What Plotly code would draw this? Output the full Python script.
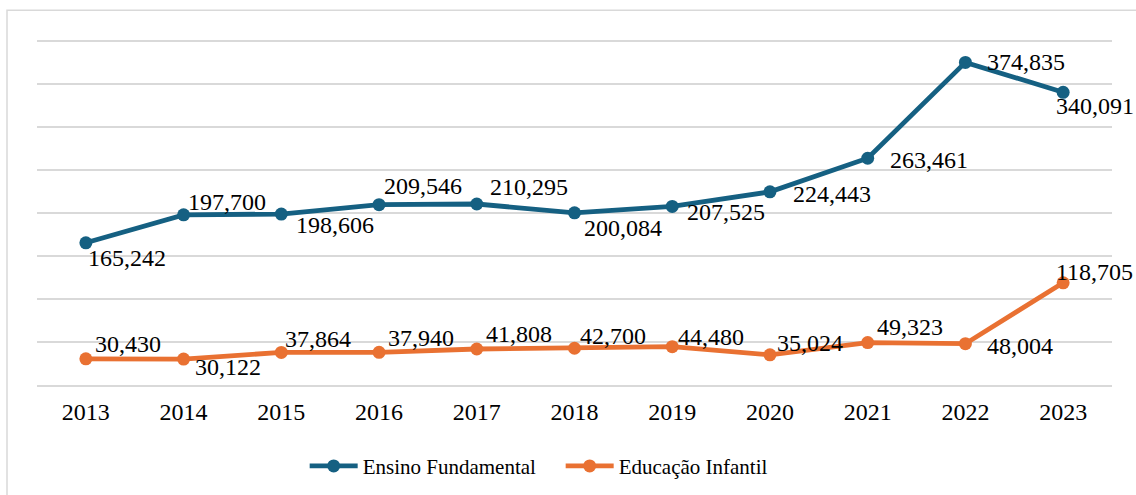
import plotly.graph_objects as go

years = ["2013", "2014", "2015", "2016", "2017", "2018", "2019", "2020", "2021", "2022", "2023"]
ensino_fundamental = [165242, 197700, 198606, 209546, 210295, 200084, 207525, 224443, 263461, 374835, 340091]
educacao_infantil = [30430, 30122, 37864, 37940, 41808, 42700, 44480, 35024, 49323, 48004, 118705]
series_names = ["Ensino Fundamental", "Educação Infantil"]

BLUE = "#156082"
ORANGE = "#E97132"
FONT = "Liberation Serif"

# label offsets (pixels: dx to the right, dy downward) for each point
ef_dx = [2, 4, 15, 5, 13, 9, 15, 23, 22, 22, -7]
ef_dy = [15, -13, 11, -19, -17, 15, 6, 2, 2, 0, 14]
ei_dx = [9, 11, 4, 9, 9, 5, 6, 7, 9, 22, -7]
ei_dy = [-15, 8, -13, -14, -15, -12, -10, -12, -16, 2, -11]

fig = go.Figure()
fig.add_trace(go.Scatter(x=years, y=ensino_fundamental, mode="lines+markers", name=series_names[0],
                         line=dict(color=BLUE, width=4.8), marker=dict(color=BLUE, size=13)))
fig.add_trace(go.Scatter(x=years, y=educacao_infantil, mode="lines+markers", name=series_names[1],
                         line=dict(color=ORANGE, width=4.8), marker=dict(color=ORANGE, size=13)))

annotations = []
for vals, dxs, dys in [(ensino_fundamental, ef_dx, ef_dy), (educacao_infantil, ei_dx, ei_dy)]:
    for i, (v, dx, dy) in enumerate(zip(vals, dxs, dys)):
        annotations.append(dict(x=i, y=v, xref="x", yref="y", text=f"{v:,}", showarrow=False,
                                xanchor="left", yanchor="middle", xshift=dx - 2, yshift=-dy,
                                font=dict(family=FONT, size=24, color="#000000")))

fig.update_layout(
    width=1136, height=495,
    margin=dict(l=37, r=24, t=39, b=110, autoexpand=False),
    paper_bgcolor="white", plot_bgcolor="white",
    font=dict(family=FONT, size=24, color="#000000"),
    showlegend=True,
    legend=dict(orientation="h", x=0.249, xanchor="left", y=-0.235, yanchor="middle",
                font=dict(family="Times New Roman", size=21, color="#000000"),
                itemwidth=48, entrywidth=193, entrywidthmode="pixels"),
    annotations=annotations,
    shapes=[dict(type="rect", xref="paper", yref="paper", x0=-0.0279, x1=1.05, y0=-0.5, y1=1.083,
                 line=dict(color="#D9D9D9", width=1.5), fillcolor="rgba(0,0,0,0)", layer="below")],
)
fig.update_xaxes(type="category", range=[-0.5, 10.5], showgrid=False, showline=True, linecolor="#D9D9D9",
                 linewidth=1.5, ticks="outside", ticklen=4, tickcolor="rgba(0,0,0,0)",
                 tickfont=dict(family=FONT, size=24, color="#000000"))
fig.update_yaxes(range=[0, 402000], tickvals=[50000, 100000, 150000, 200000, 250000, 300000, 350000, 400000],
                 showgrid=True, gridcolor="#D9D9D9", gridwidth=1.5,
                 showticklabels=False, zeroline=False, showline=False)

fig.write_html("out.html", config={"displayModeBar": False},
               post_script="document.body.style.margin='0';document.body.style.overflow='hidden';")
